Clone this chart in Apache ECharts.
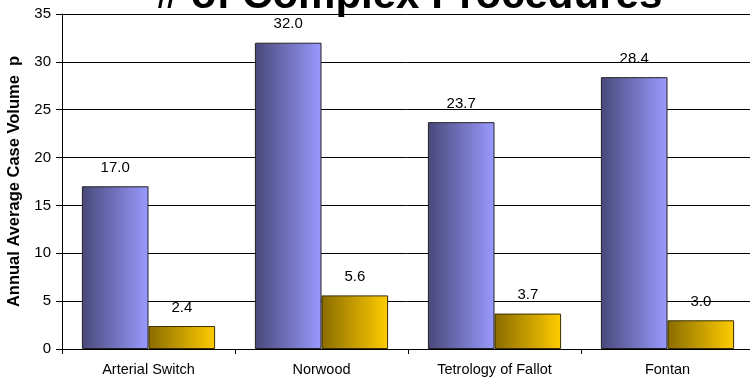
<!DOCTYPE html>
<html>
<head>
<meta charset="utf-8">
<script src="https://cdn.jsdelivr.net/npm/echarts@6/dist/echarts.min.js"></script>
<style>html,body{margin:0;padding:0;background:#fff}#c{width:750px;height:380px}</style>
</head>
<body>
<div id="c"></div>
<script>
const categories = ['Arterial Switch', 'Norwood', 'Tetrology of Fallot', 'Fontan'];
const seriesA = [17.0, 32.0, 23.7, 28.4];
const seriesB = [2.4, 5.6, 3.7, 3.0];
const yTicks = {min: 0, max: 35, interval: 5};
const titleText = '# of Complex Procedures';
const yName = 'Annual Average Case Volume  p';

const font = '"Liberation Sans", Arial, sans-serif';
const chart = echarts.init(document.getElementById('c'), null, {renderer: 'canvas'});
function grad(c1, c2) {
  return new echarts.graphic.LinearGradient(0, 0, 1, 0, [
    {offset: 0, color: c1}, {offset: 1, color: c2}
  ]);
}
const lbl = {
  show: true, position: 'top', distance: 11,
  formatter: p => p.value.toFixed(1),
  color: '#000', fontSize: 15, fontFamily: font
};
chart.setOption({
  animation: false,
  backgroundColor: '#fff',
  title: {
    text: titleText, left: 404, top: -30, textAlign: 'center',
    textStyle: {fontSize: 42, fontWeight: 'bold', fontFamily: font, color: '#000'}
  },
  grid: {left: 62, top: 14, right: -4, bottom: 31, containLabel: false, outerBoundsMode: 'none'},
  xAxis: {
    type: 'category', data: categories,
    axisLine: {lineStyle: {color: '#000', width: 1}},
    axisTick: {show: true, length: 5, inside: false, lineStyle: {color: '#000'}},
    axisLabel: {color: '#000', fontSize: 14.5, fontFamily: font, margin: 13}
  },
  yAxis: {
    type: 'value', min: yTicks.min, max: yTicks.max, interval: yTicks.interval,
    name: yName, nameLocation: 'middle', nameGap: 39, nameRotate: 90,
    nameTextStyle: {fontSize: 16.5, fontWeight: 'bold', fontFamily: font, color: '#000'},
    axisLine: {show: true, lineStyle: {color: '#000', width: 1}},
    axisTick: {show: true, length: 6, lineStyle: {color: '#000'}},
    axisLabel: {color: '#000', fontSize: 15, fontFamily: font, margin: 11},
    splitLine: {show: true, lineStyle: {color: '#000', width: 1}}
  },
  series: [
    {
      type: 'bar', data: seriesA, barGap: '0%', barCategoryGap: '23%',
      itemStyle: {color: grad('#48487a', '#9a9aff'), borderColor: '#222', borderWidth: 1},
      label: lbl
    },
    {
      type: 'bar', data: seriesB,
      itemStyle: {color: grad('#8a6c00', '#ffcc00'), borderColor: '#3a2e00', borderWidth: 1},
      label: lbl
    }
  ]
});
</script>
</body>
</html>
